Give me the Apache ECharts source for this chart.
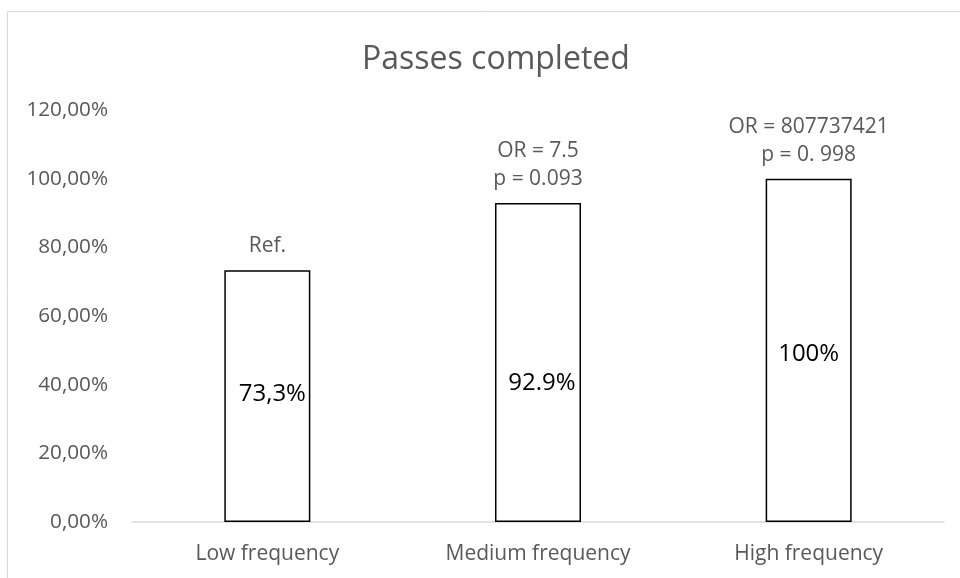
<!DOCTYPE html>
<html>
<head>
<meta charset="utf-8">
<script src="https://cdn.jsdelivr.net/npm/echarts@6/dist/echarts.min.js"></script>
<style>html,body{margin:0;padding:0;background:#fff}#c{width:960px;height:578px}</style>
</head>
<body>
<div id="c"></div>
<script>
const categories = ['Low frequency', 'Medium frequency', 'High frequency'];
const values = [0.733, 0.929, 1.0];
const valueLabels = ['73,3%', '92.9%', '100%'];
const annotations = ['Ref.', 'OR = 7.5\np = 0.093', 'OR = 807737421\np = 0. 998'];
const yTicks = [0, 0.2, 0.4, 0.6, 0.8, 1.0, 1.2];

const FONT = 'Open Sans';
const innerOffsets = [[5, -2], [4, 21], [0, 4]];

const chart = echarts.init(document.getElementById('c'), null, {renderer: 'canvas'});
chart.setOption({
  animation: false,
  backgroundColor: '#fff',
  textStyle: {fontFamily: FONT},
  graphic: [{
    type: 'rect', silent: true, z: -10,
    shape: {x: 7.5, y: 11.5, width: 1000, height: 700},
    style: {fill: 'none', stroke: '#d9d9d9', lineWidth: 1}
  }],
  title: {
    text: 'Passes completed', left: 357, top: 39,
    textStyle: {fontFamily: FONT, fontSize: 32, fontWeight: 'normal', color: '#595959'}
  },
  grid: {left: 132, right: 16, top: 110, bottom: 56},
  xAxis: {
    type: 'category', data: categories,
    axisLine: {lineStyle: {color: '#d9d9d9', width: 1.5}},
    axisTick: {show: false},
    axisLabel: {color: '#595959', fontSize: 21, fontFamily: FONT, margin: 22}
  },
  yAxis: {
    type: 'value', min: yTicks[0], max: yTicks[yTicks.length - 1], interval: 0.2,
    splitLine: {show: false},
    axisLine: {show: false}, axisTick: {show: false},
    axisLabel: {
      color: '#595959', fontSize: 20.7, fontFamily: FONT, margin: 24,
      formatter: v => (v * 100).toFixed(2).replace('.', ',') + '%'
    }
  },
  series: [{
    type: 'bar', data: values, barWidth: 86,
    itemStyle: {color: '#fff', borderColor: '#000', borderWidth: 1.5},
    label: {
      show: true, position: 'top', distance: 10,
      color: '#595959', fontSize: 21, fontFamily: FONT, lineHeight: 28,
      formatter: p => annotations[p.dataIndex]
    },
    z: 2
  }, {
    type: 'bar', data: values.map((v, i) => ({
      value: v,
      label: {offset: innerOffsets[i]}
    })), barWidth: 86, barGap: '-100%',
    itemStyle: {color: 'rgba(0,0,0,0)', borderWidth: 0},
    label: {
      show: true, position: 'inside',
      color: '#000', fontSize: 24, fontFamily: FONT,
      formatter: p => valueLabels[p.dataIndex]
    },
    z: 3
  }]
});
</script>
</body>
</html>
